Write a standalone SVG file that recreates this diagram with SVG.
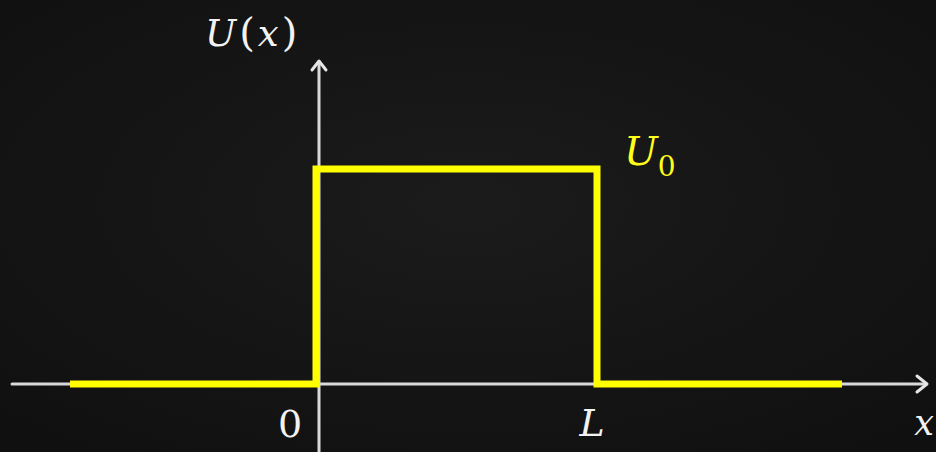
<svg xmlns="http://www.w3.org/2000/svg" width="936" height="452" viewBox="0 0 936 452">
  <style>
    .axis { stroke: #d9d9d9; stroke-width: 3; fill: none; stroke-linecap: round; }
    .head { stroke: #e6e6e6; stroke-width: 3; fill: none; stroke-linecap: round; stroke-linejoin: round; }
    .well { stroke: #ffff00; stroke-width: 7; fill: none; stroke-linejoin: miter; }
    .lbl { font-family: "DejaVu Serif", "Liberation Serif", serif; font-style: italic; fill: #f2f2f2; }
    .num { font-family: "DejaVu Serif", "Liberation Serif", serif; fill: #f2f2f2; }
    .ylbl { font-family: "DejaVu Serif", "Liberation Serif", serif; font-style: italic; fill: #ffff1a; }
  </style>
  <defs>
    <radialGradient id="bg" cx="50%" cy="45%" r="70%">
      <stop offset="0" stop-color="#1b1b1b"/>
      <stop offset="1" stop-color="#101010"/>
    </radialGradient>
  </defs>
  <rect width="936" height="452" fill="url(#bg)"/>
  <g id="connectors">
    <g id="x-axis">
      <line class="axis" x1="12" y1="384" x2="926" y2="384"/>
      <polyline class="head" points="917,376 927,384 917,392"/>
    </g>
    <g id="y-axis">
      <line class="axis" x1="319" y1="452" x2="319" y2="62"/>
      <polyline class="head" points="312,70 319,61 326,70"/>
    </g>
    <g id="potential">
      <polyline class="well" points="70,384 316,384 316,169 597,169 597,384 842,384"/>
    </g>
  </g>
  <g id="label-Ux"><text class="lbl" x="205" y="46" font-size="37" letter-spacing="3">U<tspan font-style="normal" font-size="40">(</tspan>x<tspan font-style="normal" font-size="40">)</tspan></text></g>
  <g id="label-U0"><text class="ylbl" x="624" y="165" font-size="40">U<tspan font-style="normal" font-size="28" dy="11">0</tspan></text></g>
  <g id="label-0"><text class="num" x="290" y="437" font-size="38" text-anchor="middle">0</text></g>
  <g id="label-L"><text class="lbl" x="592" y="436" font-size="38" text-anchor="middle">L</text></g>
  <g id="label-x"><text class="lbl" x="924" y="435" font-size="35" text-anchor="middle">x</text></g>
</svg>
